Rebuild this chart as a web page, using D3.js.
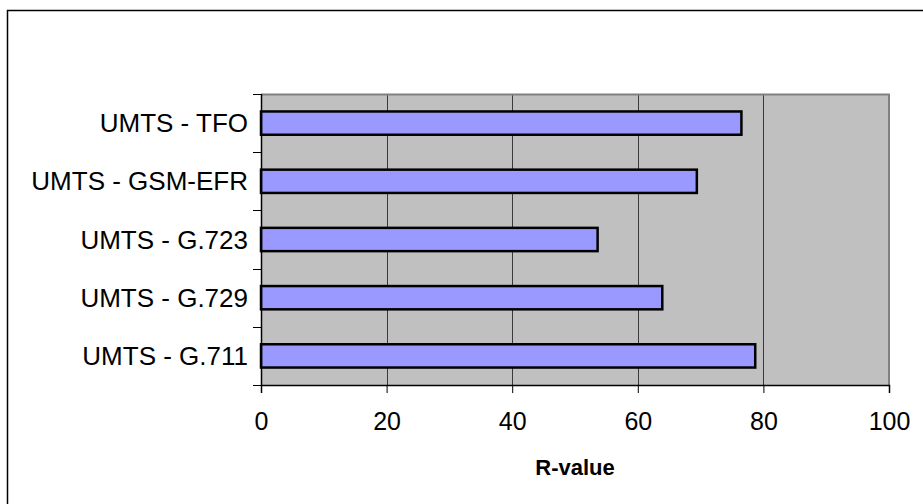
<!DOCTYPE html>
<html>
<head>
<meta charset="utf-8">
<script src="https://cdn.jsdelivr.net/npm/d3@7"></script>
<style>
  html, body { margin: 0; padding: 0; background: #fff; }
  svg { display: block; }
  text { font-family: "Liberation Sans", Arial, sans-serif; fill: #000; }
</style>
</head>
<body>
<svg id="chart" width="923" height="504"></svg>
<script>
// Connection types (top to bottom) and their R-values
const categories = ["UMTS - TFO", "UMTS - GSM-EFR", "UMTS - G.723", "UMTS - G.729", "UMTS - G.711"];
const rValues = [76.5, 69.4, 53.6, 63.9, 78.7];
const xTicks = [0, 20, 40, 60, 80, 100];
const xTitle = "R-value";

const svg = d3.select("#chart");
const W = 923, H = 504;
const plot = { left: 261, top: 94, right: 889, bottom: 385 };

// outer frame (extends past the right/bottom edges)
svg.append("rect")
  .attr("x", 7.5).attr("y", 10.5)
  .attr("width", W + 20).attr("height", H + 20)
  .attr("fill", "none").attr("stroke", "#000").attr("stroke-width", 1.5);

const x = d3.scaleLinear().domain([0, 100]).range([plot.left, plot.right]);
const y = d3.scaleBand().domain(categories).range([plot.top, plot.bottom])
  .paddingInner(0.6).paddingOuter(0.3);
const yTicksScale = d3.scaleBand().domain(categories).range([plot.top, plot.bottom]);

// plot background
svg.append("rect")
  .attr("x", plot.left).attr("y", plot.top)
  .attr("width", plot.right - plot.left).attr("height", plot.bottom - plot.top)
  .attr("fill", "#C0C0C0");

// vertical gridlines
svg.append("g").selectAll("line")
  .data(xTicks.filter(t => t > 0 && t < 100))
  .join("line")
  .attr("x1", d => Math.round(x(d)) + 0.5).attr("x2", d => Math.round(x(d)) + 0.5)
  .attr("y1", plot.top).attr("y2", plot.bottom)
  .attr("stroke", "#3a3a3a").attr("stroke-width", 1);

// plot area top/right edges
svg.append("path")
  .attr("d", `M${plot.left},${plot.top + 0.5}H${plot.right}V${plot.bottom}`)
  .attr("fill", "none").attr("stroke", "#808080").attr("stroke-width", 2);

// bars
svg.append("g").selectAll("rect")
  .data(categories)
  .join("rect")
  .attr("x", x(0))
  .attr("y", d => y(d))
  .attr("width", (d, i) => x(rValues[i]) - x(0))
  .attr("height", y.bandwidth())
  .attr("fill", "#9999FF")
  .attr("stroke", "#000").attr("stroke-width", 2.5);

// x axis
const xAxis = d3.axisBottom(x).tickValues(xTicks).tickSize(8).tickPadding(19)
  .tickFormat(d3.format("d"));
const gx = svg.append("g").attr("transform", `translate(0,${plot.bottom})`).call(xAxis);
gx.select(".domain").attr("stroke", "#000").attr("stroke-width", 1.5);
gx.selectAll(".tick line").attr("stroke", "#000");
gx.selectAll(".tick text").style("font-size", "25px")
  .attr("font-family", "Liberation Sans, Arial, sans-serif");

// y axis: ticks at category boundaries
const bounds = categories.map(c => yTicksScale(c)).concat([plot.bottom]);
const gy = svg.append("g");
gy.append("line")
  .attr("x1", plot.left + 0.5).attr("x2", plot.left + 0.5)
  .attr("y1", plot.top).attr("y2", plot.bottom)
  .attr("stroke", "#000").attr("stroke-width", 1.5);
gy.selectAll("line.tk").data(bounds).join("line").attr("class", "tk")
  .attr("x1", plot.left - 8).attr("x2", plot.left)
  .attr("y1", d => Math.round(d) + 0.5).attr("y2", d => Math.round(d) + 0.5)
  .attr("stroke", "#000");
gy.selectAll("text").data(categories).join("text")
  .attr("x", plot.left - 13)
  .attr("y", d => yTicksScale(d) + yTicksScale.bandwidth() / 2)
  .attr("text-anchor", "end").attr("dominant-baseline", "central")
  .style("font-size", "26px")
  .text(d => d);

// axis title
svg.append("text")
  .attr("x", (plot.left + plot.right) / 2).attr("y", 475)
  .attr("text-anchor", "middle")
  .style("font-size", "22px").style("font-weight", "bold")
  .text(xTitle);
</script>
</body>
</html>
